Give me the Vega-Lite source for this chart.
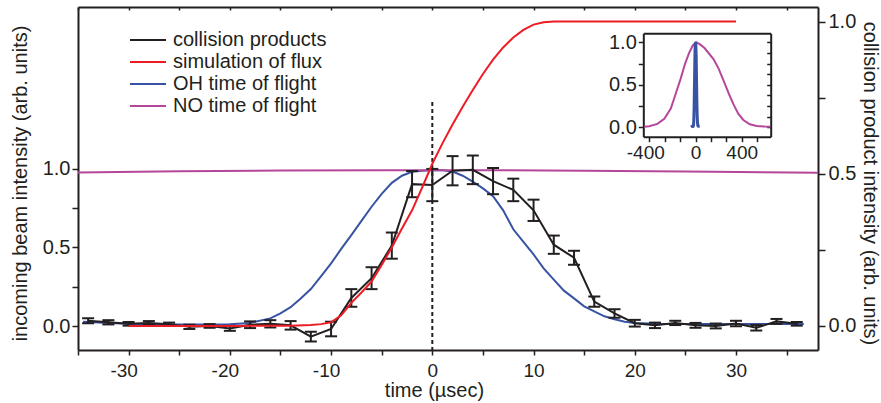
{
  "$schema": "https://vega.github.io/schema/vega-lite/v6.json",
  "width": 740,
  "height": 343,
  "autosize": {"type": "none"},
  "padding": {"left": 78, "top": 7, "right": 63, "bottom": 53},
  "background": "white",
  "config": {
    "font": "Liberation Sans",
    "view": {"stroke": null},
    "axis": {
      "labelFont": "Liberation Sans", "labelFontSize": 19, "labelColor": "#231f20",
      "titleFont": "Liberation Sans", "titleFontSize": 20, "titleFontWeight": "normal", "titleColor": "#231f20",
      "domainColor": "#231f20", "domainWidth": 2, "tickColor": "#231f20", "tickWidth": 1.5,
      "grid": false, "labelFlush": false, "labelOverlap": false, "labelBound": false
    }
  },
  "datasets": {
    "collision": [
      {"t": -34, "v": 0.017, "err": 0.008}, {"t": -32, "v": 0.012, "err": 0.007}, {"t": -30, "v": 0.007, "err": 0.006},
      {"t": -28, "v": 0.010, "err": 0.006}, {"t": -26, "v": 0.006, "err": 0.005}, {"t": -24, "v": -0.003, "err": 0.007},
      {"t": -22, "v": 0.000, "err": 0.006}, {"t": -20, "v": -0.008, "err": 0.008}, {"t": -18, "v": 0.004, "err": 0.011},
      {"t": -16, "v": 0.007, "err": 0.012}, {"t": -14, "v": 0.002, "err": 0.014}, {"t": -12, "v": -0.035, "err": 0.016},
      {"t": -10, "v": -0.010, "err": 0.024}, {"t": -8, "v": 0.092, "err": 0.029}, {"t": -6, "v": 0.157, "err": 0.036},
      {"t": -4, "v": 0.264, "err": 0.043}, {"t": -2, "v": 0.466, "err": 0.043}, {"t": 0, "v": 0.463, "err": 0.053},
      {"t": 2, "v": 0.51, "err": 0.048}, {"t": 4, "v": 0.513, "err": 0.047}, {"t": 6, "v": 0.476, "err": 0.043},
      {"t": 8, "v": 0.447, "err": 0.037}, {"t": 10, "v": 0.38, "err": 0.035}, {"t": 12, "v": 0.267, "err": 0.030},
      {"t": 14, "v": 0.224, "err": 0.023}, {"t": 16, "v": 0.080, "err": 0.017}, {"t": 18, "v": 0.041, "err": 0.014},
      {"t": 20, "v": 0.009, "err": 0.011}, {"t": 22, "v": 0.002, "err": 0.009}, {"t": 24, "v": 0.010, "err": 0.007},
      {"t": 26, "v": 0.002, "err": 0.008}, {"t": 28, "v": 0.000, "err": 0.008}, {"t": 30, "v": 0.008, "err": 0.009},
      {"t": 32, "v": -0.006, "err": 0.009}, {"t": 34, "v": 0.015, "err": 0.008}, {"t": 36, "v": 0.007, "err": 0.006}
    ],
    "flux": [
      {"t": -30, "v": 0}, {"t": -20, "v": 0}, {"t": -14, "v": 0.001}, {"t": -12, "v": 0.003}, {"t": -11, "v": 0.006},
      {"t": -10, "v": 0.012}, {"t": -9, "v": 0.035}, {"t": -8, "v": 0.076}, {"t": -7, "v": 0.11}, {"t": -6, "v": 0.146},
      {"t": -5, "v": 0.2}, {"t": -4, "v": 0.258}, {"t": -3, "v": 0.32}, {"t": -2, "v": 0.38}, {"t": -1, "v": 0.455},
      {"t": 0, "v": 0.533}, {"t": 1, "v": 0.6}, {"t": 2, "v": 0.662}, {"t": 3, "v": 0.72}, {"t": 4, "v": 0.775},
      {"t": 5, "v": 0.828}, {"t": 6, "v": 0.875}, {"t": 7, "v": 0.915}, {"t": 8, "v": 0.948}, {"t": 9, "v": 0.973},
      {"t": 10, "v": 0.99}, {"t": 11, "v": 0.998}, {"t": 12, "v": 1.0}, {"t": 20, "v": 1.0}, {"t": 30, "v": 1.0}
    ],
    "oh": [
      {"t": -34.5, "v": 0.027}, {"t": -32, "v": 0.02}, {"t": -30, "v": 0.014}, {"t": -28, "v": 0.011}, {"t": -25, "v": 0.01},
      {"t": -22, "v": 0.01}, {"t": -20, "v": 0.012}, {"t": -18, "v": 0.02}, {"t": -16, "v": 0.049}, {"t": -15, "v": 0.081},
      {"t": -14, "v": 0.12}, {"t": -13, "v": 0.175}, {"t": -12, "v": 0.235}, {"t": -11, "v": 0.315}, {"t": -10, "v": 0.398},
      {"t": -9, "v": 0.49}, {"t": -8, "v": 0.578}, {"t": -7, "v": 0.668}, {"t": -6, "v": 0.758}, {"t": -5, "v": 0.84},
      {"t": -4, "v": 0.91}, {"t": -3, "v": 0.955}, {"t": -2, "v": 0.98}, {"t": -1, "v": 0.987}, {"t": 0, "v": 0.99},
      {"t": 1, "v": 0.99}, {"t": 2, "v": 0.982}, {"t": 3, "v": 0.955}, {"t": 4, "v": 0.918}, {"t": 5, "v": 0.875},
      {"t": 6, "v": 0.825}, {"t": 7, "v": 0.735}, {"t": 8, "v": 0.615}, {"t": 9, "v": 0.535}, {"t": 10, "v": 0.455},
      {"t": 11, "v": 0.367}, {"t": 12, "v": 0.295}, {"t": 13, "v": 0.225}, {"t": 14, "v": 0.176}, {"t": 15, "v": 0.125},
      {"t": 16, "v": 0.094}, {"t": 17, "v": 0.062}, {"t": 18, "v": 0.043}, {"t": 19, "v": 0.028}, {"t": 20, "v": 0.02},
      {"t": 22, "v": 0.015}, {"t": 26, "v": 0.013}, {"t": 30, "v": 0.013}, {"t": 36.7, "v": 0.013}
    ],
    "no_main": [
      {"t": -35, "v": 0.976}, {"t": -25, "v": 0.983}, {"t": -15, "v": 0.988}, {"t": -5, "v": 0.99},
      {"t": 5, "v": 0.99}, {"t": 15, "v": 0.987}, {"t": 25, "v": 0.982}, {"t": 38.1, "v": 0.974}
    ],
    "no_inset": [
      {"t": -445, "v": 0.005}, {"t": -400, "v": 0.012}, {"t": -330, "v": 0.04}, {"t": -270, "v": 0.1},
      {"t": -214, "v": 0.22}, {"t": -170, "v": 0.4}, {"t": -129, "v": 0.57}, {"t": -90, "v": 0.75},
      {"t": -57, "v": 0.87}, {"t": -25, "v": 0.96}, {"t": 5, "v": 1.0}, {"t": 40, "v": 0.975},
      {"t": 80, "v": 0.93}, {"t": 157, "v": 0.8}, {"t": 200, "v": 0.69}, {"t": 243, "v": 0.55},
      {"t": 290, "v": 0.39}, {"t": 329, "v": 0.27}, {"t": 370, "v": 0.16}, {"t": 414, "v": 0.086},
      {"t": 470, "v": 0.035}, {"t": 530, "v": 0.015}, {"t": 600, "v": 0.008}, {"t": 648, "v": 0.006}
    ],
    "marker": [{"t": 0, "top": 1.423, "bottom": -0.152}]
  },
  "resolve": {"scale": {"x": "independent", "y": "independent"}},
  "layer": [
    {
      "layer": [
        {
          "data": {"name": "oh"},
          "mark": {"type": "line", "strokeWidth": 2},
          "encoding": {
            "x": {"field": "t", "type": "quantitative", "scale": {"domain": [-35, 38.1], "nice": false, "zero": false},
              "axis": {"orient": "bottom", "title": "time (µsec)", "values": [-35, -30, -25, -20, -15, -10, -5, 0, 5, 10, 15, 20, 25, 30, 35],
                "labelExpr": "datum.value % 10 == 0 ? toString(datum.value) : ''",
                "labelOffset": {"condition": {"test": "datum.value < 0", "value": -5}, "value": 0},
                "tickSize": 5, "labelPadding": 6, "titlePadding": 0, "titleX": 356}},
            "y": {"field": "v", "type": "quantitative", "scale": {"domain": [-0.152, 2.027], "nice": false, "zero": false},
              "axis": {"orient": "left", "title": "incoming beam intensity (arb. units)", "values": [0, 0.25, 0.5, 0.75, 1], "labelFontSize": 20,
                "labelExpr": "datum.value % 0.5 == 0 ? format(datum.value, '.1f') : ''", "tickSize": 6, "labelPadding": 2, "titlePadding": 12, "titleY": 176}},
            "color": {"datum": "OH time of flight", "type": "nominal",
              "scale": {"domain": ["collision products", "simulation of flux", "OH time of flight", "NO time of flight"], "range": ["#231f20", "#ed1c24", "#3953a4", "#b5479a"]},
              "legend": {"orient": "none", "legendX": 51, "legendY": 22, "title": null, "symbolType": "stroke", "symbolSize": 1296, "symbolStrokeWidth": 2,
                "labelFontSize": 20, "labelFont": "Liberation Sans", "labelColor": "#231f20", "rowPadding": 0, "clipHeight": 21.8, "labelOffset": 6, "padding": 0}}
          }
        },
        {
          "data": {"name": "no_main"},
          "mark": {"type": "line", "strokeWidth": 2},
          "encoding": {
            "x": {"field": "t", "type": "quantitative", "scale": {"domain": [-35, 38.1], "nice": false, "zero": false}},
            "y": {"field": "v", "type": "quantitative", "scale": {"domain": [-0.152, 2.027], "nice": false, "zero": false}},
            "color": {"datum": "NO time of flight", "type": "nominal"}
          }
        },
        {
          "data": {"name": "marker"},
          "mark": {"type": "rule", "strokeDash": [4, 3], "strokeWidth": 2, "color": "#231f20"},
          "encoding": {
            "x": {"field": "t", "type": "quantitative", "scale": {"domain": [-35, 38.1], "nice": false, "zero": false}},
            "y": {"field": "top", "type": "quantitative", "scale": {"domain": [-0.152, 2.027], "nice": false, "zero": false}},
            "y2": {"field": "bottom"}
          }
        }
      ]
    },
    {
      "layer": [
        {
          "data": {"name": "collision"},
          "mark": {"type": "errorbar", "size": 12, "thickness": 2, "color": "#231f20",
            "ticks": {"color": "#231f20", "strokeWidth": 2, "opacity": 1}, "rule": {"color": "#231f20", "strokeWidth": 2, "opacity": 1}},
          "encoding": {
            "x": {"field": "t", "type": "quantitative", "scale": {"domain": [-35, 38.1], "nice": false, "zero": false},
              "axis": {"orient": "top", "title": null, "labels": false, "values": [-35, -30, -25, -20, -15, -10, -5, 0, 5, 10, 15, 20, 25, 30, 35], "tickSize": -3}},
            "y": {"field": "v", "type": "quantitative", "scale": {"domain": [-0.079, 1.048], "nice": false, "zero": false},
              "axis": {"orient": "right", "title": "collision product intensity (arb. units)", "values": [0, 0.25, 0.5, 0.75, 1], "labelFontSize": 20,
                "labelExpr": "datum.value % 0.5 == 0 ? format(datum.value, '.1f') : ''", "tickSize": 7, "labelPadding": 3, "titlePadding": 4, "titleY": 176}},
            "yError": {"field": "err"}
          }
        },
        {
          "data": {"name": "collision"},
          "mark": {"type": "line", "strokeWidth": 2},
          "encoding": {
            "x": {"field": "t", "type": "quantitative", "scale": {"domain": [-35, 38.1], "nice": false, "zero": false}},
            "y": {"field": "v", "type": "quantitative", "scale": {"domain": [-0.079, 1.048], "nice": false, "zero": false}},
            "color": {"datum": "collision products", "type": "nominal"}
          }
        },
        {
          "data": {"name": "flux"},
          "mark": {"type": "line", "strokeWidth": 2},
          "encoding": {
            "x": {"field": "t", "type": "quantitative", "scale": {"domain": [-35, 38.1], "nice": false, "zero": false}},
            "y": {"field": "v", "type": "quantitative", "scale": {"domain": [-0.079, 1.048], "nice": false, "zero": false}},
            "color": {"datum": "simulation of flux", "type": "nominal"}
          }
        }
      ]
    },
    {
      "data": {"name": "no_inset"},
      "mark": {"type": "line", "strokeWidth": 2},
      "encoding": {
        "x": {"field": "t", "type": "quantitative", "scale": {"domain": [-452, 651], "range": [565.3, 692.7], "nice": false, "zero": false},
          "axis": {"orient": "bottom", "offset": -213.3, "title": null, "values": [-400, -266.67, -133.33, 0, 133.33, 266.67, 400, 533.33],
            "labelExpr": "abs(datum.value) % 400 < 1 ? toString(datum.value) : ''",
            "labelOffset": {"condition": {"test": "datum.value < 0", "value": -4}, "value": 0},
            "tickSize": 5, "labelPadding": 2}},
        "y": {"field": "v", "type": "quantitative", "scale": {"domain": [-0.111, 1.106], "range": [129.7, 26.3], "nice": false, "zero": false},
          "axis": {"orient": "left", "offset": -565.3, "title": null, "values": [0, 0.25, 0.5, 0.75, 1], "labelFontSize": 20,
            "labelExpr": "datum.value % 0.5 == 0 ? format(datum.value, '.1f') : ''", "tickSize": 5, "labelPadding": 2}},
        "color": {"datum": "NO time of flight", "type": "nominal"}
      }
    },
    {
      "data": {"name": "oh"},
      "mark": {"type": "line", "strokeWidth": 3},
      "encoding": {
        "x": {"field": "t", "type": "quantitative", "scale": {"domain": [-452, 651], "range": [565.3, 692.7], "nice": false, "zero": false},
          "axis": {"orient": "top", "offset": -26.3, "title": null, "labels": false, "ticks": false}},
        "y": {"field": "v", "type": "quantitative", "scale": {"domain": [-0.111, 1.106], "range": [129.7, 26.3], "nice": false, "zero": false},
          "axis": {"orient": "right", "offset": -47.3, "title": null, "labels": false, "values": [0, 0.125, 0.25, 0.375, 0.5, 0.625, 0.75, 0.875, 1], "tickSize": -4}},
        "color": {"datum": "OH time of flight", "type": "nominal"}
      }
    }
  ]
}
